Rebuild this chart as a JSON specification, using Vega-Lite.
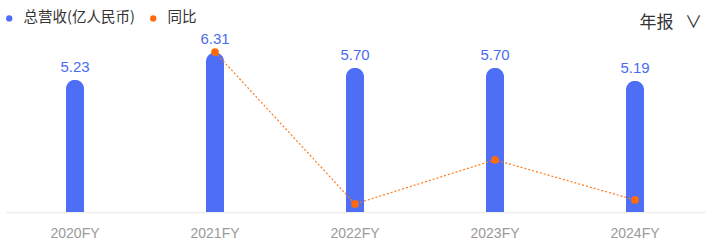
{
  "$schema": "https://vega.github.io/schema/vega-lite/v6.json",
  "width": 700,
  "height": 177,
  "autosize": {"type": "none"},
  "padding": {"left": 5, "top": 35, "right": 12, "bottom": 38},
  "background": "#ffffff",
  "config": {"view": {"stroke": null}},
  "title": {
    "text": "年报\u00a0\u00a0\u00a0∨",
    "anchor": "end",
    "orient": "top",
    "frame": "group",
    "fontSize": 17,
    "fontWeight": "normal",
    "color": "#333333",
    "font": "Noto Sans CJK SC",
    "baseline": "bottom",
    "offset": 5,
    "dx": -3,
    "dy": 43
  },
  "data": {
    "values": [
      {"year": "2020FY", "revenue": 5.23, "yoy": null},
      {"year": "2021FY", "revenue": 6.31, "yoy": 20.6},
      {"year": "2022FY", "revenue": 5.70, "yoy": -9.7},
      {"year": "2023FY", "revenue": 5.70, "yoy": -0.9},
      {"year": "2024FY", "revenue": 5.19, "yoy": -8.9}
    ]
  },
  "encoding": {
    "x": {
      "field": "year",
      "type": "nominal",
      "sort": null,
      "scale": {"paddingInner": 0, "paddingOuter": 0},
      "axis": {
        "title": null,
        "labelAngle": 0,
        "labelFontSize": 14,
        "labelColor": "#9a9a9a",
        "labelFont": "Liberation Sans",
        "labelPadding": 14,
        "ticks": false,
        "domainColor": "#eeeeee",
        "domainWidth": 1.5,
        "grid": false
      }
    }
  },
  "layer": [
    {
      "layer": [
        {
          "mark": {"type": "bar", "size": 18, "cornerRadiusTopLeft": 9, "cornerRadiusTopRight": 9},
          "encoding": {
            "y": {"field": "revenue", "type": "quantitative", "scale": {"domain": [0, 7]}, "axis": null},
            "color": {
              "datum": "总营收(亿人民币)",
              "type": "nominal",
              "scale": {"domain": ["总营收(亿人民币)", "同比"], "range": ["#4d6ef5", "#ff6a0d"]},
              "legend": {
                "title": null,
                "orient": "none",
                "legendX": -3,
                "legendY": -24,
                "direction": "horizontal",
                "symbolType": "circle",
                "symbolSize": 40,
                "symbolStrokeWidth": 0,
                "labelFontSize": 14.5,
                "labelColor": "#333333",
                "labelFont": "Noto Sans CJK SC",
                "columnPadding": 11,
                "labelOffset": 7
              }
            }
          }
        },
        {
          "mark": {"type": "text", "baseline": "bottom", "dy": -5, "fontSize": 15, "color": "#4a6cf0", "font": "Liberation Sans"},
          "encoding": {
            "y": {"field": "revenue", "type": "quantitative", "scale": {"domain": [0, 7]}, "axis": null},
            "text": {"field": "revenue", "type": "quantitative", "format": ".2f"}
          }
        }
      ]
    },
    {
      "transform": [{"filter": "datum.yoy != null"}],
      "layer": [
        {
          "mark": {"type": "line", "color": "#ff7a1a", "strokeWidth": 1.2, "strokeDash": [2, 2]},
          "encoding": {
            "y": {"field": "yoy", "type": "quantitative", "scale": {"domain": [-11.3, 24]}, "axis": null}
          }
        },
        {
          "mark": {"type": "point", "filled": true, "size": 60, "opacity": 1},
          "encoding": {
            "y": {"field": "yoy", "type": "quantitative", "scale": {"domain": [-11.3, 24]}, "axis": null},
            "color": {"datum": "同比", "type": "nominal"}
          }
        }
      ]
    }
  ],
  "resolve": {"scale": {"y": "independent"}}
}
